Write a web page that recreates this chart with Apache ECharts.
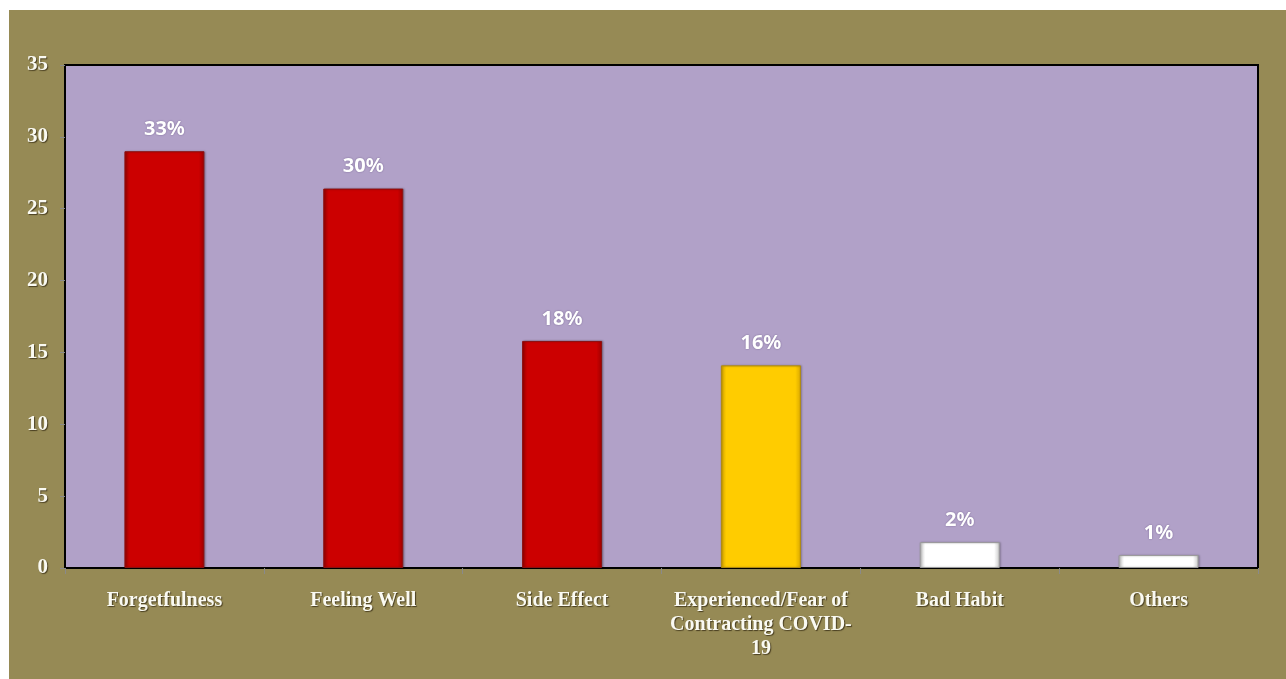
<!DOCTYPE html>
<html>
<head>
<meta charset="utf-8">
<script src="https://cdn.jsdelivr.net/npm/echarts@6/dist/echarts.min.js"></script>
<style>
html,body{margin:0;padding:0;background:#ffffff;}
#chart{position:absolute;left:9px;top:10px;width:1277px;height:669px;}
</style>
</head>
<body>
<div id="chart"></div>
<script>
const categories = ['Forgetfulness', 'Feeling Well', 'Side Effect', 'Experienced/Fear of\nContracting COVID-\n19', 'Bad Habit', 'Others'];
const values = [29, 26.4, 15.8, 14.1, 1.8, 0.9];
const percentLabels = ['33%', '30%', '18%', '16%', '2%', '1%'];
const yTicks = [0, 5, 10, 15, 20, 25, 30, 35];

function bevel(base, edge) {
  return {
    type: 'linear', x: 0, y: 0, x2: 1, y2: 0,
    colorStops: [
      {offset: 0, color: edge},
      {offset: 0.07, color: base},
      {offset: 0.93, color: base},
      {offset: 1, color: edge}
    ]
  };
}
const barStyles = [
  {base:'#CC0000', edge:'#9E0000', border:'#8C1010'},
  {base:'#CC0000', edge:'#9E0000', border:'#8C1010'},
  {base:'#CC0000', edge:'#9E0000', border:'#8C1010'},
  {base:'#FFCC00', edge:'#D9A800', border:'#B08A10'},
  {base:'#FFFFFF', edge:'#C8C8C8', border:'#9A9A9A'},
  {base:'#FFFFFF', edge:'#C8C8C8', border:'#9A9A9A'}
];

const chart = echarts.init(document.getElementById('chart'));
chart.setOption({
  backgroundColor: '#968A55',
  animation: false,
  grid: {
    left: 56, top: 55, right: 28, bottom: 111,
    show: true, backgroundColor: '#B1A1C8', borderColor: '#000000', borderWidth: 2
  },
  xAxis: {
    type: 'category',
    data: categories,
    axisLine: {show: true, lineStyle: {color: '#000000', width: 1.5}},
    axisTick: {show: true, alignWithLabel: false, length: 6, lineStyle: {color: '#8a8a8a'}},
    axisLabel: {
      interval: 0, margin: 21,
      fontFamily: 'Liberation Serif', fontWeight: 'bold', fontSize: 20,
      color: '#FAFAF2', lineHeight: 24,
      textShadowColor: 'rgba(40,30,10,0.7)', textShadowBlur: 1, textShadowOffsetX: 1, textShadowOffsetY: 1
    }
  },
  yAxis: {
    type: 'value',
    min: 0, max: 35, interval: 5,
    splitLine: {show: false},
    axisLine: {show: true, lineStyle: {color: '#000000', width: 1.5}},
    axisTick: {show: true, length: 5, lineStyle: {color: '#8a8a8a'}},
    axisLabel: {
      margin: 17,
      fontFamily: 'Liberation Serif', fontWeight: 'bold', fontSize: 21,
      color: '#FAFAF2',
      textShadowColor: 'rgba(40,30,10,0.7)', textShadowBlur: 1, textShadowOffsetX: 1, textShadowOffsetY: 1,
      formatter: v => yTicks.includes(v) ? String(v) : ''
    }
  },
  series: [{
    type: 'bar',
    barWidth: 80,
    data: values.map((v, i) => ({
      value: v,
      itemStyle: {
        color: bevel(barStyles[i].base, barStyles[i].edge),
        borderColor: barStyles[i].border, borderWidth: 1,
        shadowColor: 'rgba(0,0,0,0.25)', shadowBlur: 2, shadowOffsetX: 1, shadowOffsetY: 0
      },
      label: {formatter: percentLabels[i]}
    })),
    label: {
      show: true, position: 'top', distance: 12,
      fontFamily: 'Noto Sans', fontWeight: 'bold', fontSize: 20,
      color: '#FFFFFF',
      textShadowColor: 'rgba(80,60,110,0.6)', textShadowBlur: 2
    }
  }]
});
</script>
</body>
</html>
